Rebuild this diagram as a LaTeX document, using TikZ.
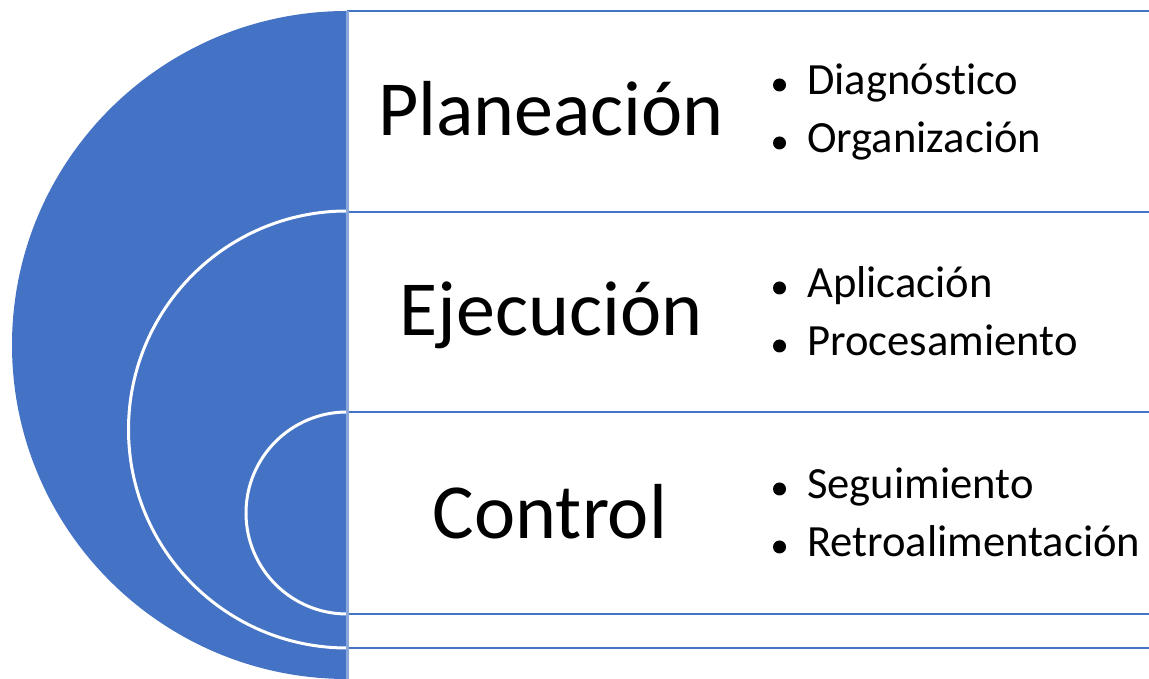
\documentclass[tikz,border=0pt]{standalone}
\usepackage{fontspec}
\setmainfont{Carlito}[Ligatures=NoCommon]
\definecolor{sblue}{HTML}{4472C4}
\definecolor{lblue}{HTML}{8AA7DC}
\begin{document}
\begin{tikzpicture}[x=1pt,y=1pt,
  main/.style={font=\fontsize{78}{80}\selectfont, anchor=base, inner sep=0pt},
  item/.style={font=\fontsize{44.6}{50}\selectfont, anchor=base west, inner sep=0pt},
  bullet/.style={circle, fill=black, minimum size=13pt, inner sep=0pt},
  rowline/.style={draw=sblue, line width=2.5pt},
  sep/.style={draw=white, line width=3pt}]
\useasboundingbox (0,0) rectangle (1149,679);
\begin{scope}
\clip (0,0) rectangle (1149,679);
\fill[sblue] (347,668) arc[start angle=90, end angle=270, x radius=335pt, y radius=334pt] -- cycle;
\draw[sep] (347,468) arc[start angle=90, end angle=270, radius=218.5pt];
\draw[sep] (347,267) arc[start angle=90, end angle=270, radius=101pt];
\coordinate (t0) at (347,668);
\coordinate (t1) at (347,467);
\coordinate (t2) at (347,267);
\coordinate (t3) at (347,65);
\coordinate (t4) at (347,31);
\coordinate (b0) at (347,0);
\foreach \c in {t0,t1,t2,t3,t4} {\draw[rowline] (\c) -- ++(820,0);}
\draw[draw=lblue, line width=3pt] (t0) -- (b0);
\end{scope}
\node[main] (plan) at (551,543) {Planeación};
\node[main] (ejec) at (551,343) {Ejecución};
\node[main] (ctrl) at (550,140) {Control};
\node[item] (i1) at (807,584) {Diagnóstico};
\node[item] (i2) at (807,526) {Organización};
\node[item] (i3) at (807,381) {Aplicación};
\node[item] (i4) at (807,323) {Procesamiento};
\node[item] (i5) at (807,180) {Seguimiento};
\node[item] (i6) at (807,122) {Retroalimentación};
\node[bullet] (d1) at (779.5,594) {};
\node[bullet] (d2) at (779.5,536) {};
\node[bullet] (d3) at (779.5,391) {};
\node[bullet] (d4) at (779.5,333) {};
\node[bullet] (d5) at (779.5,190) {};
\node[bullet] (d6) at (779.5,132) {};
\end{tikzpicture}
\end{document}
